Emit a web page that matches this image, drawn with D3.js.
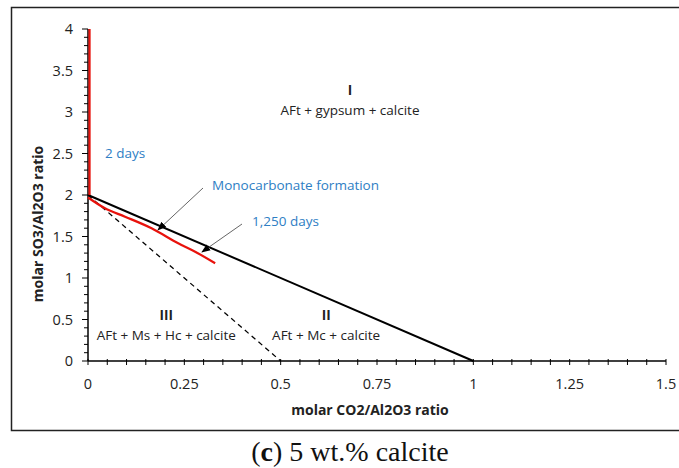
<!DOCTYPE html>
<html>
<head>
<meta charset="utf-8">
<script src="https://d3js.org/d3.v7.min.js"></script>
<style>
  body { margin: 0; background: #fff; }
  svg text { font-family: "Open Sans", "Noto Sans", sans-serif; }
</style>
</head>
<body>
<svg id="chart" width="679" height="468"></svg>
<script>
// boundary lines of the phase diagram
const solidLine = [[0, 2], [1, 0]]
const dashedLine = [[0, 2], [0.5, 0]]
// measured path (red)
const redVertical = [[0.004, 4], [0.004, 2]]
const redCurve = [[0, 1.97], [0.044, 1.84], [0.096, 1.739], [0.165, 1.599], [0.234, 1.418], [0.278, 1.317], [0.33, 1.177]]

const xTicks = [0, 0.25, 0.5, 0.75, 1, 1.25, 1.5]
const xTickLabels = ['0', '0.25', '0.5', '0.75', '1', '1.25', '1.5']
const yTicks = [0, 0.5, 1, 1.5, 2, 2.5, 3, 3.5, 4]

const regions = [
  { num: 'I', text: 'AFt + gypsum + calcite', x: 0.68, y: 3.2 },
  { num: 'III', text: 'AFt + Ms + Hc + calcite', x: 0.203, y: 0.49 },
  { num: 'II', text: 'AFt + Mc + calcite', x: 0.618, y: 0.49 }
]

const svg = d3.select('#chart')
const x = d3.scaleLinear().domain([0, 1.5]).range([88, 666])
const y = d3.scaleLinear().domain([0, 4]).range([361, 29])

// outer frame (open on the right)
svg.append('path')
  .attr('d', 'M679,7.5 H11.5 V430.5 H679')
  .attr('fill', 'none').attr('stroke', '#222').attr('stroke-width', 1.5)

// axes
const xAxis = svg.append('g').attr('transform', 'translate(0,' + y(0) + ')')
xAxis.append('line').attr('x1', x(0)).attr('x2', x(1.5)).attr('stroke', '#000').attr('stroke-width', 1.5)
xAxis.selectAll('line.minor').data(d3.range(0, 31).map(d => d * 0.05)).enter()
  .append('line').attr('class', 'minor')
  .attr('x1', d => x(d)).attr('x2', d => x(d))
  .attr('y1', -2).attr('y2', 4).attr('stroke', '#000')
xAxis.selectAll('text').data(xTicks).enter().append('text')
  .attr('x', d => x(d)).attr('y', 28)
  .attr('text-anchor', 'middle').attr('font-size', 14.5).attr('fill', '#222')
  .text((d, i) => xTickLabels[i])

const yAxis = svg.append('g').attr('transform', 'translate(' + x(0) + ',0)')
yAxis.append('line').attr('y1', y(0)).attr('y2', y(4)).attr('stroke', '#000').attr('stroke-width', 1.5)
yAxis.selectAll('line.minor').data(d3.range(0, 41).map(d => d * 0.1)).enter()
  .append('line').attr('class', 'minor')
  .attr('y1', d => y(d)).attr('y2', d => y(d))
  .attr('x1', (d, i) => i % 5 === 0 ? -6 : -4).attr('x2', 0).attr('stroke', '#000')
yAxis.selectAll('text').data(yTicks).enter().append('text')
  .attr('x', -15).attr('y', d => y(d) + 5)
  .attr('text-anchor', 'end').attr('font-size', 14.5).attr('fill', '#222')
  .text(d => d)

// axis titles
svg.append('text')
  .attr('x', 370).attr('y', 415)
  .attr('text-anchor', 'middle').attr('font-size', 14).attr('font-weight', 'bold').attr('fill', '#222')
  .text('molar CO2/Al2O3 ratio')
svg.append('text')
  .attr('transform', 'translate(43,224) rotate(-90)')
  .attr('text-anchor', 'middle').attr('font-size', 14).attr('font-weight', 'bold').attr('fill', '#222')
  .text('molar SO3/Al2O3 ratio')

const line = d3.line().x(d => x(d[0])).y(d => y(d[1]))

svg.append('path').datum(dashedLine).attr('d', line)
  .attr('fill', 'none').attr('stroke', '#000').attr('stroke-width', 1.3).attr('stroke-dasharray', '5,4')
svg.append('path').datum(solidLine).attr('d', line)
  .attr('fill', 'none').attr('stroke', '#000').attr('stroke-width', 2)
svg.append('path').datum(redVertical).attr('d', line)
  .attr('fill', 'none').attr('stroke', '#e8120c').attr('stroke-width', 2.2)
svg.append('path').datum(redCurve).attr('d', d3.line().x(d => x(d[0])).y(d => y(d[1])).curve(d3.curveMonotoneX))
  .attr('fill', 'none').attr('stroke', '#e8120c').attr('stroke-width', 2.2)

// region labels
regions.forEach(r => {
  svg.append('text').attr('x', x(r.x)).attr('y', y(r.y))
    .attr('text-anchor', 'middle').attr('font-size', 13.5).attr('font-weight', 'bold').attr('fill', '#222')
    .text(r.num)
  svg.append('text').attr('x', x(r.x)).attr('y', y(r.y) + 20)
    .attr('text-anchor', 'middle').attr('font-size', 13.5).attr('fill', '#222')
    .text(r.text)
})

// blue annotations
const blue = '#2e7ec4'
svg.append('text').attr('x', 105).attr('y', 158).attr('font-size', 13.5).attr('fill', blue).text('2 days')
svg.append('text').attr('x', 212).attr('y', 190).attr('font-size', 13.5).attr('fill', blue).text('Monocarbonate formation')
svg.append('text').attr('x', 252).attr('y', 226).attr('font-size', 13.5).attr('fill', blue).text('1,250 days')

// arrows
svg.append('defs').append('marker')
  .attr('id', 'head').attr('viewBox', '0 0 10 10').attr('refX', 9).attr('refY', 5)
  .attr('markerWidth', 9).attr('markerHeight', 9).attr('orient', 'auto')
  .append('path').attr('d', 'M0,1 L10,5 L0,9 Z').attr('fill', '#000')
const arrows = [[[203, 188], [158, 230]], [[242, 224], [202, 252]]]
arrows.forEach(a => {
  svg.append('line')
    .attr('x1', a[0][0]).attr('y1', a[0][1]).attr('x2', a[1][0]).attr('y2', a[1][1])
    .attr('stroke', '#666').attr('stroke-width', 1).attr('marker-end', 'url(#head)')
})

// caption
const cap = svg.append('text').attr('x', 350).attr('y', 461).attr('text-anchor', 'middle')
  .attr('font-size', 28).attr('fill', '#111')
  .style('font-family', '"Liberation Serif", serif')
cap.append('tspan').text('(')
cap.append('tspan').attr('font-weight', 'bold').text('c')
cap.append('tspan').text(') 5 wt.% calcite')
</script>
</body>
</html>
